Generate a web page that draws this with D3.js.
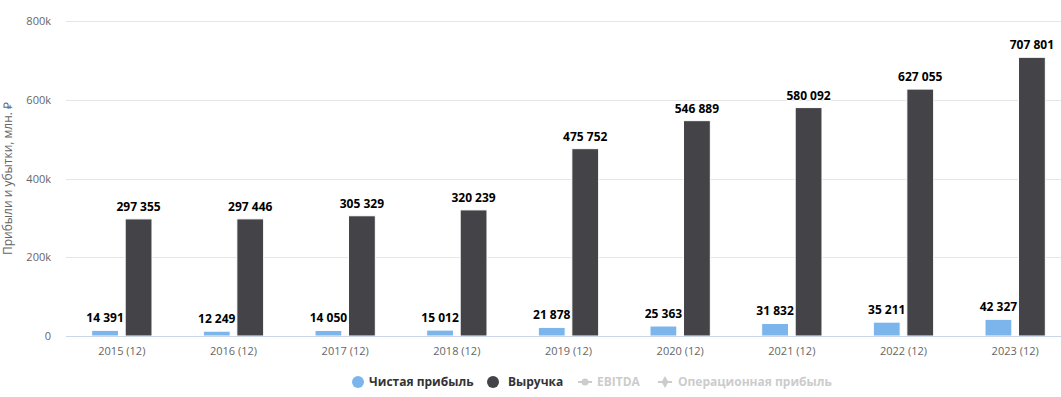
<!DOCTYPE html>
<html><head><meta charset="utf-8">
<script src="https://cdn.jsdelivr.net/npm/d3@7"></script>
<style>body{margin:0;background:#fff}svg{display:block;font-family:"Open Sans",sans-serif}</style>
</head><body>
<svg id="c" width="1061" height="397"></svg>
<script>
const categories = ["2015 (12)","2016 (12)","2017 (12)","2018 (12)","2019 (12)","2020 (12)","2021 (12)","2022 (12)","2023 (12)"];
const netProfit = [14391,12249,14050,15012,21878,25363,31832,35211,42327];
const revenue = [297355,297446,305329,320239,475752,546889,580092,627055,707801];
const yTicks = [0,200000,400000,600000,800000];
const seriesNames = ["Чистая прибыль","Выручка"];
const seriesColors = ["#7cb5ec","#434348"];
const hiddenSeries = ["EBITDA","Операционная прибыль"];
const yTitle = "Прибыли и убытки, млн. ₽";

(function(){
const svg = d3.select("#c");
const pLeft = 66, pRight = 1071, pTop = 21, pBottom = 336;
const x0 = d3.scaleBand().domain(categories).range([pLeft, pRight]);
const bw = x0.bandwidth();
const x1 = d3.scaleBand().domain([0,1]).range([0.2*bw, 0.8*bw]).paddingInner(0.2).paddingOuter(0.1);
const y = d3.scaleLinear().domain([0,800000]).range([pBottom, pTop]);

// gridlines
svg.append("g").selectAll("line").data(yTicks.filter(d=>d>0)).join("line")
  .attr("x1", pLeft).attr("x2", 1061).attr("y1", d=>Math.round(y(d))+0.5).attr("y2", d=>Math.round(y(d))+0.5)
  .attr("stroke", "#e6e6e6");

// y axis labels
const yAxis = d3.axisLeft(y).tickValues(yTicks).tickSize(0).tickPadding(0)
  .tickFormat(d => d===0 ? "0" : (d/1000)+"k");
const ya = svg.append("g").attr("transform", `translate(${pLeft-15},0)`).call(yAxis);
ya.select(".domain").remove();
ya.selectAll("text").attr("fill","#666").attr("font-size","11px").attr("font-family","Open Sans, sans-serif");

// y title
svg.append("text").attr("transform", `translate(12,${(pTop+pBottom)/2}) rotate(-90)`)
  .attr("text-anchor","middle").attr("fill","#666").attr("font-size","12px").text(yTitle);

// bars
const data = categories.map((c,i)=>({c, v:[netProfit[i], revenue[i]]}));
const fmt = v => d3.format(",")(v).replace(/,/g," ");
const g = svg.append("g").selectAll("g").data(data).join("g").attr("transform", d=>`translate(${x0(d.c)},0)`);
g.selectAll("rect").data(d=>d.v.map((v,k)=>({v,k}))).join("rect")
  .attr("x", d=>x1(d.k)).attr("width", x1.bandwidth())
  .attr("y", d=>y(d.v)).attr("height", d=>pBottom - y(d.v))
  .attr("fill", d=>seriesColors[d.k]).attr("stroke","#fff").attr("stroke-width",1);
g.selectAll("text").data(d=>d.v.map((v,k)=>({v,k}))).join("text")
  .attr("x", d=>x1(d.k)+x1.bandwidth()/2).attr("y", d=>y(d.v)-8)
  .attr("text-anchor","middle").attr("font-size","12px").attr("font-weight","bold")
  .attr("fill","#000").attr("stroke","#fff").attr("stroke-width",2).attr("paint-order","stroke")
  .text(d=>fmt(d.v));

// x axis
svg.append("line").attr("x1", pLeft).attr("x2", 1061).attr("y1", pBottom+0.5).attr("y2", pBottom+0.5).attr("stroke","#ccd6eb");
const xa = svg.append("g").attr("transform", `translate(0,${pBottom})`)
  .call(d3.axisBottom(x0).tickSize(0).tickPadding(0));
xa.select(".domain").remove();
xa.selectAll("text").attr("fill","#666").attr("font-size","11px").attr("dy",null).attr("y",19).attr("font-family","Open Sans, sans-serif");

// legend
const ly = 382;
const leg = svg.append("g").attr("font-size","12px").attr("font-weight","bold");
const items = [
  {type:"dot", color:seriesColors[0], text:seriesNames[0], mx:358, tx:369},
  {type:"dot", color:seriesColors[1], text:seriesNames[1], mx:493, tx:508},
  {type:"line", color:"#cccccc", text:hiddenSeries[0], mx:585, tx:597, marker:"circle"},
  {type:"line", color:"#cccccc", text:hiddenSeries[1], mx:665, tx:678, marker:"diamond"}
];
items.forEach(it=>{
  if(it.type==="dot"){
    leg.append("circle").attr("cx",it.mx).attr("cy",ly).attr("r",6).attr("fill",it.color);
    leg.append("text").attr("x",it.tx).attr("y",ly+4).attr("fill","#333").text(it.text);
  } else {
    leg.append("line").attr("x1",it.mx-7).attr("x2",it.mx+7).attr("y1",ly).attr("y2",ly).attr("stroke",it.color).attr("stroke-width",2);
    if(it.marker==="circle") leg.append("circle").attr("cx",it.mx).attr("cy",ly).attr("r",3.5).attr("fill",it.color);
    else leg.append("path").attr("d",d3.symbol(d3.symbolDiamond,40)()).attr("transform",`translate(${it.mx},${ly})`).attr("fill",it.color);
    leg.append("text").attr("x",it.tx).attr("y",ly+4).attr("fill","#ccc").text(it.text);
  }
});
})();
</script>
</body></html>
